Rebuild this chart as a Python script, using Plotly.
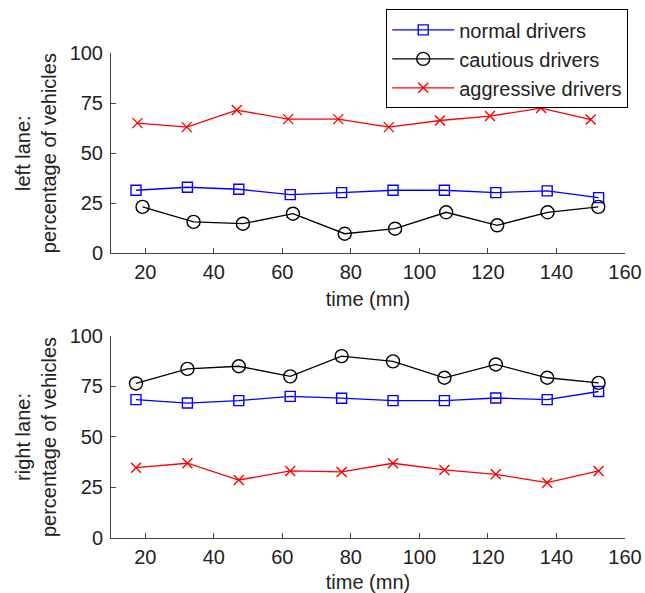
import plotly.graph_objects as go
from plotly.subplots import make_subplots

# sampling times (mn)
time_mn = [17.3, 32.3, 47.3, 62.3, 77.3, 92.3, 107.3, 122.3, 137.3, 152.3]
time_left_cautious = [19.2, 34.1, 48.5, 63.1, 78.2, 92.9, 107.8, 122.7, 137.4, 152.2]
time_left_aggressive = [17.7, 32.1, 46.7, 61.7, 76.3, 91.1, 106.0, 120.6, 135.5, 150.0]

# left lane percentages
left_normal = [31.5, 33, 32, 29.3, 30.3, 31.5, 31.5, 30.3, 31.2, 27.8]
left_cautious = [23.2, 15.7, 14.8, 19.8, 9.8, 12.3, 20.5, 14, 20.5, 23.2]
left_aggressive = [65, 63, 71.5, 67, 67, 63, 66.3, 68.5, 72.5, 66.8]

# right lane percentages
right_normal = [68.5, 66.8, 68, 70.1, 69.2, 68, 68, 69.3, 68.5, 72.5]
right_cautious = [76.5, 83.7, 85, 80, 90, 87.4, 79.3, 85.9, 79.3, 76.8]
right_aggressive = [34.8, 37, 28.7, 33.2, 32.7, 37, 33.7, 31.5, 27.4, 33.2]

series_names = ['normal drivers', 'cautious drivers', 'aggressive drivers']
x_ticks = [20, 40, 60, 80, 100, 120, 140, 160]
y_ticks = [0, 25, 50, 75, 100]

styles = [
    dict(color='#0000ff', symbol='square-open', size=10),
    dict(color='#000000', symbol='circle-open', size=13),
    dict(color='#ff0000', symbol='x-thin-open', size=10),
]

FONT = 'Liberation Sans, Arial, sans-serif'
TXT = '#222222'
AX = '#444444'

W, H = 645, 593
L, R, T, B = 110.5, 20, 52.7, 54.7
plot_h = H - T - B


def ydom(top_px, bot_px):
    # pixel rows -> domain fraction of the plot area
    return [1 - (bot_px - T) / plot_h, 1 - (top_px - T) / plot_h]


fig = make_subplots(rows=2, cols=1)

panels = [
    (1, [time_mn, time_left_cautious, time_left_aggressive],
     [left_normal, left_cautious, left_aggressive]),
    (2, [time_mn, time_mn, time_mn],
     [right_normal, right_cautious, right_aggressive]),
]
for row, times, data in panels:
    for name, t, vals, st in zip(series_names, times, data, styles):
        fig.add_trace(
            go.Scatter(
                x=t, y=vals, name=name, mode='lines+markers',
                line=dict(color=st['color'], width=1.3),
                marker=dict(symbol=st['symbol'], size=st['size'],
                            color=st['color'],
                            line=dict(color=st['color'], width=1.4)),
                showlegend=(row == 1),
            ),
            row=row, col=1
        )

axis_common = dict(
    showline=True, linecolor=AX, linewidth=1,
    ticks='inside', ticklen=5, tickcolor=AX,
    showgrid=False, zeroline=False, automargin=False,
    tickfont=dict(family=FONT, size=20, color=TXT),
)

fig.update_xaxes(range=[10, 160], tickvals=x_ticks, ticklabelstandoff=1,
                 title=dict(text='time (mn)', standoff=9,
                            font=dict(family=FONT, size=20, color=TXT)),
                 **axis_common)
fig.update_yaxes(range=[0, 100], tickvals=y_ticks, ticklabelstandoff=3,
                 **axis_common)

fig.update_layout(
    yaxis=dict(domain=ydom(52.7, 253.3),
               title=dict(text='left lane:<br>percentage of vehicles', standoff=7,
                          font=dict(family=FONT, size=20, color=TXT))),
    yaxis2=dict(domain=ydom(336, 538.3),
                title=dict(text='right lane:<br>percentage of vehicles', standoff=7,
                           font=dict(family=FONT, size=20, color=TXT))),
    width=W, height=H,
    margin=dict(l=L, r=R, t=T, b=B, autoexpand=False),
    paper_bgcolor='white', plot_bgcolor='white',
    legend=dict(
        x=(386 - L) / (W - L - R), y=1 + (T - 9) / plot_h,
        xanchor='left', yanchor='top',
        bordercolor='#000000', borderwidth=1, bgcolor='white',
        font=dict(family=FONT, size=20, color=TXT),
        tracegroupgap=0, itemwidth=62,
    ),
)

# drop the browser's default 8px body margin so the figure sits at (0, 0)
fig.write_html("out.html", config={'displayModeBar': False},
               post_script="document.body.style.margin = '0';")
